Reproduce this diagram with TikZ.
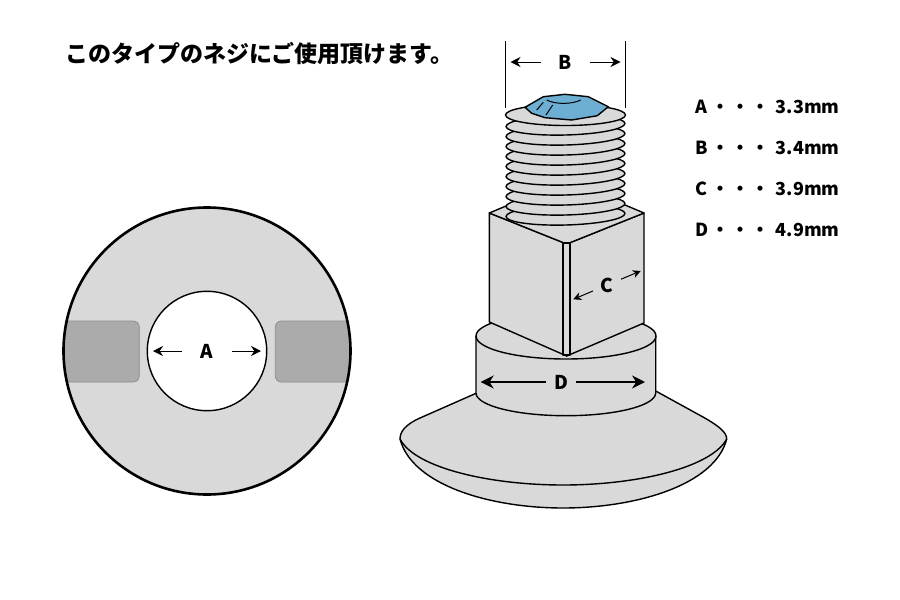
\documentclass[tikz,border=0pt]{standalone}
\usepackage{fontspec}
\setmainfont{Noto Sans CJK JP}
\usetikzlibrary{arrows.meta}
\definecolor{partgray}{HTML}{D9D9D9}
\definecolor{slotgray}{HTML}{ABABAB}
\definecolor{socketblue}{HTML}{6CAFD3}
\tikzset{
    part/.style={draw=black, fill=partgray, line width=1.4pt, line join=round},
    slot/.style={draw=black!45, fill=slotgray, line width=0.7pt, rounded corners=6pt},
    dimarrow/.style={-{Stealth[length=10pt,width=10pt]}, line width=1pt},
    dimarrowbig/.style={-{Stealth[length=13pt,width=13pt]}, line width=1.4pt},
    dimarrowsmall/.style={-{Stealth[length=8pt,width=8pt]}, line width=1pt},
    dimlabel/.style={font=\bfseries\fontsize{19}{20}\selectfont, inner sep=0pt},
    legendtext/.style={font=\bfseries\fontsize{18}{20}\selectfont, inner sep=0pt, anchor=west},
}
\begin{document}
\begin{tikzpicture}[x=1pt,y=-1pt]
    \useasboundingbox (0,0) rectangle (900,600);

    \node[font=\bfseries\fontsize{23}{24}\selectfont, inner sep=0pt, anchor=west] (title) at (65,54)
        {このタイプのネジにご使用頂けます。};

    % disc
    \fill[partgray] (207,351) circle[radius=143.5];
    \begin{scope}
        \clip (207,351) circle[radius=143.5];
        \draw[slot] (40,321) rectangle (139.3,382);
        \draw[slot] (275.3,321) rectangle (380,382);
    \end{scope}
    \draw[line width=2.6pt] (207,351) circle[radius=143.5];
    \draw[fill=white, line width=1.4pt] (207,351) circle[radius=59.7];

    \node[dimlabel, minimum width=50pt] (labelA) at (207,351) {A};
    \coordinate (tipAleft) at (153,351);
    \coordinate (tipAright) at (261,351);
    \draw[dimarrow] (labelA) -- (tipAleft);
    \draw[dimarrow] (labelA) -- (tipAright);

    % dome
    \draw[part] (476.7,393) -- (420,418) .. controls (405,424.6) and (400,432) .. (400,439)
        .. controls (412,485) and (490,508) .. (563,508)
        .. controls (636,508) and (715,485) .. (726.7,439)
        .. controls (726.7,432) and (718,425.5) .. (703,417) -- (655.7,391);
    \draw[part, fill=none] (400,439) .. controls (415,468) and (490,485) .. (563,485)
        .. controls (636,485) and (711,468) .. (726.7,439);

    % collar
    \draw[part] (476,336) -- (476,393) .. controls (476,405.5) and (516,415.7) .. (566,415.7)
        .. controls (616,415.7) and (655.7,405.5) .. (655.7,393) -- (655.7,336);
    \draw[part] (566,336) ellipse[x radius=90,y radius=23];

    % square part
    \draw[part] (489.3,213) -- (566.7,244) -- (566.7,356) -- (489.3,322) -- cycle;
    \draw[part] (644,213) -- (566.7,244) -- (566.7,356) -- (644,323) -- cycle;
    \draw[part] (489.3,213) -- (506,206) -- (625,205) -- (644,213) -- (566.7,244) -- cycle;
    \draw[part] (563,243) rectangle (570,355);

    % thread
    \foreach \y in {215,205,...,125}{
        \draw[part, rotate around={1.5:(565.5,\y)}] (565.5,\y) ellipse[x radius=59.5,y radius=10];
    }
    \draw[part] (565.5,115) ellipse[x radius=60,y radius=10.5];

    % socket
    \draw[line width=1.4pt, fill=socketblue, line join=round] (525,107.3) -- (543.3,96.7) -- (565,94.3)
        -- (588.3,96.7) -- (608.3,106.7) -- (597.3,115.7) -- (571.7,120) -- (545,117.7)
        -- (531.7,113.3) -- cycle;
    \draw[line width=1pt] (546.7,100) .. controls (555,104.5) and (572,104.5) .. (580.7,100);
    \draw[line width=1pt] (536.7,110) -- (543.3,102.3);
    \draw[line width=1pt] (546,115) -- (552.7,105);

    % dimensions
    \coordinate (extBtopleft) at (505.5,41);
    \coordinate (extBbotleft) at (505.5,108);
    \coordinate (extBtopright) at (625,41);
    \coordinate (extBbotright) at (625,108);
    \draw[line width=1pt] (extBtopleft) -- (extBbotleft);
    \draw[line width=1pt] (extBtopright) -- (extBbotright);
    \node[dimlabel, minimum width=49pt] (labelB) at (565.5,62) {B};
    \coordinate (tipBleft) at (510.5,62);
    \coordinate (tipBright) at (620.5,62);
    \draw[dimarrow] (labelB) -- (tipBleft);
    \draw[dimarrow] (labelB) -- (tipBright);

    \node[dimlabel, circle, minimum size=30pt] (labelC) at (607,285) {C};
    \coordinate (tipCleft) at (573.3,299.3);
    \coordinate (tipCright) at (640.7,271);
    \draw[dimarrowsmall] (labelC) -- (tipCleft);
    \draw[dimarrowsmall] (labelC) -- (tipCright);

    \node[dimlabel, minimum width=30pt] (labelD) at (561,382) {D};
    \coordinate (tipDleft) at (480.7,382);
    \coordinate (tipDright) at (645,382);
    \draw[dimarrowbig] (labelD) -- (tipDleft);
    \draw[dimarrowbig] (labelD) -- (tipDright);

    % legend
    \foreach \name/\size/\ypos in {A/3.3/107, B/3.4/148, C/3.9/189, D/4.9/230}{
        \node[legendtext] (legend\name) at (695,\ypos)
            {\makebox[16.7pt][l]{\name}・\hspace{2pt}・\hspace{2pt}・\hspace{6pt}\size mm};
    }
\end{tikzpicture}
\end{document}
